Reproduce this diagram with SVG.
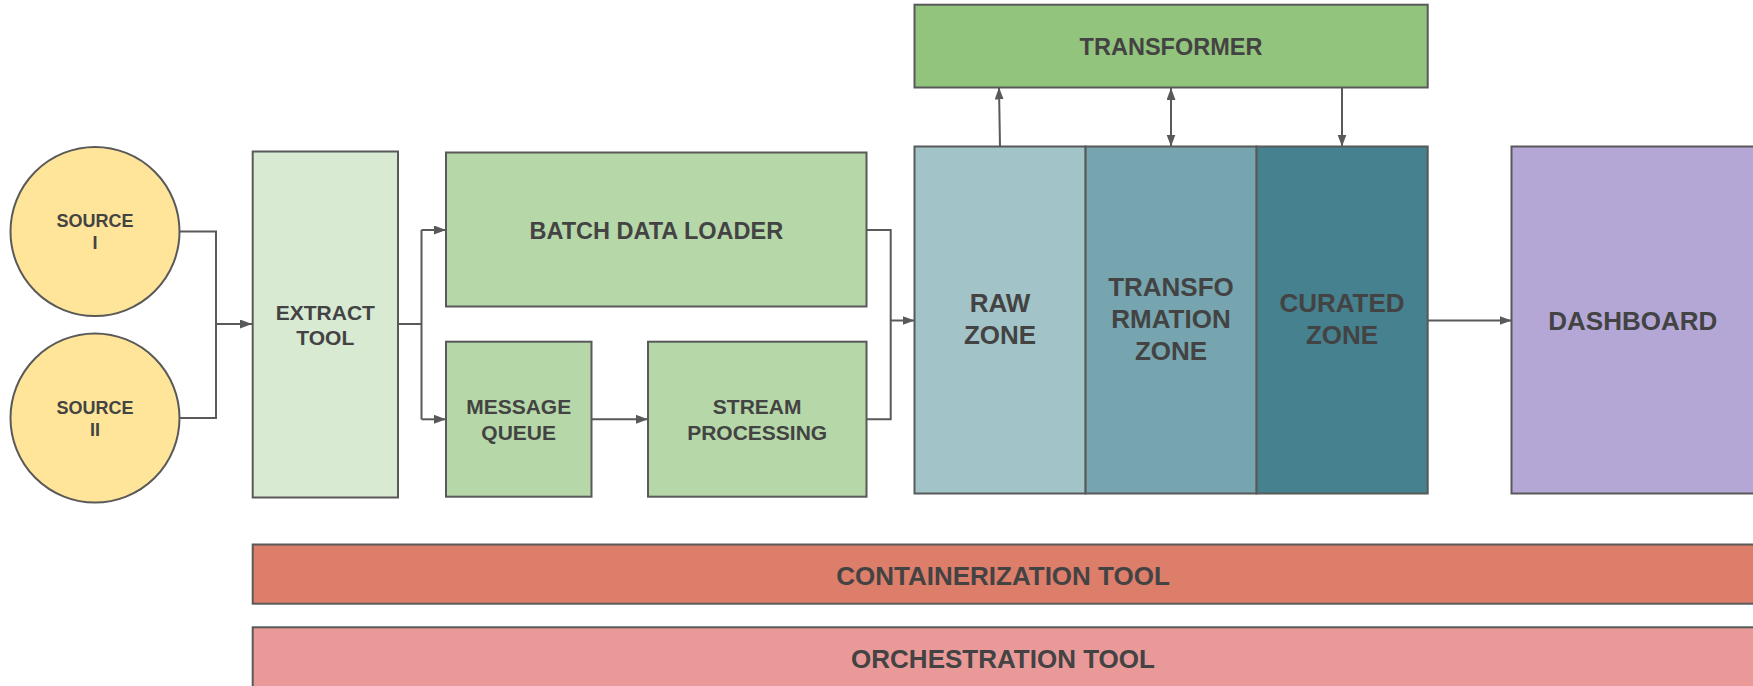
<svg xmlns="http://www.w3.org/2000/svg" width="1753" height="686" viewBox="0 0 1753 686">
<style>
.box{stroke:#595959;stroke-width:2}
.lbl{font-family:"Liberation Sans",Arial,sans-serif;font-weight:bold;fill:#434343;text-anchor:middle}
.conn{fill:none;stroke:#595959;stroke-width:2}
</style>
<defs>
<marker id="arr" markerUnits="userSpaceOnUse" markerWidth="13" markerHeight="10" refX="12" refY="4.5" orient="auto-start-reverse">
<path d="M0,0 L12,4.5 L0,9 z" fill="#595959"/>
</marker>
</defs>
<rect width="1753" height="686" fill="#ffffff"/>

<g id="connectors">
<path class="conn" d="M179.5,231.5 H216 V418 H179.5"/>
<path class="conn" d="M216,324 H252" marker-end="url(#arr)"/>
<path class="conn" d="M398,324 H421.5"/>
<path class="conn" d="M421.5,230 V419.3"/>
<path class="conn" d="M421.5,230 H446" marker-end="url(#arr)"/>
<path class="conn" d="M421.5,419.3 H446" marker-end="url(#arr)"/>
<path class="conn" d="M591.5,419.3 H648" marker-end="url(#arr)"/>
<path class="conn" d="M866.5,230 H890.7 V419.3 H866.5"/>
<path class="conn" d="M890.7,320.5 H914.5" marker-end="url(#arr)"/>
<path class="conn" d="M1000,146.5 L999,87.5" marker-end="url(#arr)"/>
<path class="conn" d="M1171,88 V146.5" marker-start="url(#arr)" marker-end="url(#arr)"/>
<path class="conn" d="M1342,87.5 V146.5" marker-end="url(#arr)"/>
<path class="conn" d="M1427.7,320.5 H1511.5" marker-end="url(#arr)"/>
</g>

<g id="source1">
<circle class="box" cx="95" cy="231.5" r="84.5" fill="#ffe599"/>
<text class="lbl" font-size="18" x="95" y="226.7">SOURCE<tspan x="95" dy="22.4">I</tspan></text>
</g>
<g id="source2">
<circle class="box" cx="95" cy="418" r="84.5" fill="#ffe599"/>
<text class="lbl" font-size="18" x="95" y="413.7">SOURCE<tspan x="95" dy="22">II</tspan></text>
</g>

<g id="extract">
<rect class="box" x="252.7" y="151.5" width="145.3" height="346" fill="#d9ead3"/>
<text class="lbl" font-size="21" x="325.3" y="319.5">EXTRACT<tspan x="325.3" dy="25.7">TOOL</tspan></text>
</g>

<g id="batch">
<rect class="box" x="446" y="152.5" width="420.5" height="154" fill="#b6d7a8"/>
<text class="lbl" font-size="23.5" x="656.3" y="239">BATCH DATA LOADER</text>
</g>

<g id="mq">
<rect class="box" x="446" y="341.7" width="145.5" height="155" fill="#b6d7a8"/>
<text class="lbl" font-size="21" x="518.7" y="414.2">MESSAGE<tspan x="518.7" dy="25.6">QUEUE</tspan></text>
</g>

<g id="stream">
<rect class="box" x="648" y="341.7" width="218.5" height="155" fill="#b6d7a8"/>
<text class="lbl" font-size="21" x="757.2" y="414.2">STREAM<tspan x="757.2" dy="25.6">PROCESSING</tspan></text>
</g>

<g id="transformer">
<rect class="box" x="914.5" y="4.7" width="513.2" height="82.8" fill="#93c47d"/>
<text class="lbl" font-size="23.5" x="1171" y="55.4">TRANSFORMER</text>
</g>

<g id="rawzone">
<rect class="box" x="914.5" y="146.5" width="171.1" height="347" fill="#a2c4c9"/>
<text class="lbl" font-size="26" x="1000" y="312">RAW<tspan x="1000" dy="32">ZONE</tspan></text>
</g>
<g id="transzone">
<rect class="box" x="1085.6" y="146.5" width="171" height="347" fill="#76a5af"/>
<text class="lbl" font-size="26" x="1171" y="295.8">TRANSFO<tspan x="1171" dy="32">RMATION</tspan><tspan x="1171" dy="32">ZONE</tspan></text>
</g>
<g id="curatedzone">
<rect class="box" x="1256.6" y="146.5" width="171.1" height="347" fill="#45818e"/>
<text class="lbl" font-size="26" x="1342" y="312">CURATED<tspan x="1342" dy="32">ZONE</tspan></text>
</g>

<g id="dashboard">
<rect class="box" x="1511.5" y="146.5" width="250" height="347" fill="#b4a7d6"/>
<text class="lbl" font-size="26" x="1632.8" y="330">DASHBOARD</text>
</g>

<g id="containerization">
<rect class="box" x="252.7" y="544.5" width="1510" height="59.2" fill="#dd7e6b"/>
<text class="lbl" font-size="26" x="1003" y="585">CONTAINERIZATION TOOL</text>
</g>

<g id="orchestration">
<rect class="box" x="252.7" y="627.3" width="1510" height="70" fill="#ea9999"/>
<text class="lbl" font-size="26" x="1003" y="667.8">ORCHESTRATION TOOL</text>
</g>
</svg>
